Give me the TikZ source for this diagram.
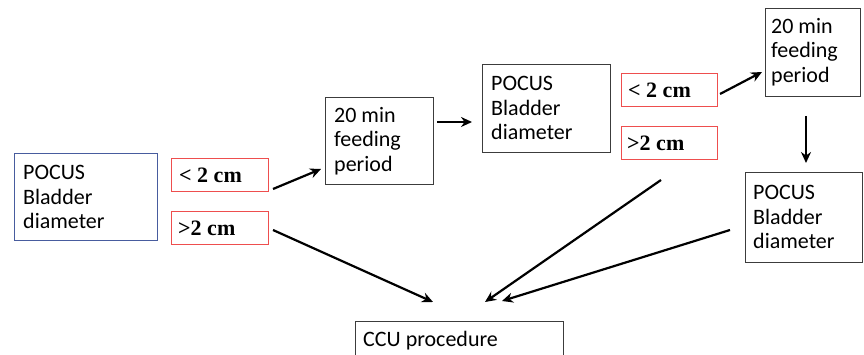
\documentclass[tikz,border=0pt]{standalone}
\usepackage{fontspec}
\setmainfont{Carlito}
\newfontfamily\tnr{Liberation Serif}
\usetikzlibrary{arrows.meta}
\definecolor{bblue}{RGB}{72,92,158}
\definecolor{rred}{RGB}{238,78,78}
\definecolor{gborder}{RGB}{60,60,60}
\tikzset{
  box/.style={draw=gborder, line width=1.1pt, rectangle, inner sep=0pt, anchor=north west},
  lbl/.style={anchor=west, font=\fontsize{22}{24.5}\selectfont, align=left, inner sep=0pt},
  cond/.style={draw=rred, line width=1.2pt, rectangle, inner sep=0pt, anchor=north west,
    minimum width=97pt, minimum height=33pt},
  clbl/.style={anchor=west, font=\tnr\bfseries\fontsize{22}{24}\selectfont, inner sep=0pt},
  arr/.style={line width=2.2pt, -{Stealth[length=11pt,width=10pt]}},
}
\begin{document}
\begin{tikzpicture}[x=1pt,y=-1pt]
\useasboundingbox (0,0) rectangle (864,355);
\clip (0,0) rectangle (864,355);
% main boxes
\node[box, draw=bblue, minimum width=143pt, minimum height=87pt] (p1) at (14,153) {};
\node[lbl] (p1t) at (23,197) {POCUS\\Bladder\\diameter};
\node[box, minimum width=108pt, minimum height=87pt] (f1) at (325,97) {};
\node[lbl] (f1t) at (334,141) {20 min\\feeding\\period};
\node[box, minimum width=128pt, minimum height=88pt] (p2) at (482,64) {};
\node[lbl] (p2t) at (491,108) {POCUS\\Bladder\\diameter};
\node[box, minimum width=95pt, minimum height=88pt] (f2) at (765,8) {};
\node[lbl] (f2t) at (771,52) {20 min\\feeding\\period};
\node[box, minimum width=117pt, minimum height=90pt] (p3) at (745,172) {};
\node[lbl] (p3t) at (753,217) {POCUS\\Bladder\\diameter};
\node[box, minimum width=208pt, minimum height=60pt] (ccu) at (355,321) {};
\node[lbl] (ccut) at (363,341) {CCU procedure};
% condition boxes
\node[cond] (lt1) at (171,158) {};
\node[clbl] (lt1t) at (179,175) {< 2 cm};
\node[cond] (gt1) at (171,211) {};
\node[clbl] (gt1t) at (178,228) {>2 cm};
\node[cond, minimum width=96pt] (lt2) at (621,73) {};
\node[clbl] (lt2t) at (628,90) {< 2 cm};
\node[cond, minimum width=96pt] (gt2) at (621,126) {};
\node[clbl] (gt2t) at (627,143) {>2 cm};
% connector ends
\coordinate (a1s) at (273,189);
\coordinate (a1e) at (321,169);
\coordinate (a2s) at (273,230);
\coordinate (a2e) at (433,302);
\coordinate (a3s) at (437,122);
\coordinate (a3e) at (472,122);
\coordinate (a4s) at (720,94);
\coordinate (a4e) at (762,72);
\coordinate (a5s) at (806,116);
\coordinate (a5e) at (806,163);
\coordinate (a6s) at (661,180);
\coordinate (a6e) at (485,302);
\coordinate (a7s) at (730,230);
\coordinate (a7e) at (502,301);
\draw[arr] (a1s) -- (a1e);
\draw[arr] (a2s) -- (a2e);
\draw[arr] (a3s) -- (a3e);
\draw[arr] (a4s) -- (a4e);
\draw[arr] (a5s) -- (a5e);
\draw[arr] (a6s) -- (a6e);
\draw[arr] (a7s) -- (a7e);
\end{tikzpicture}
\end{document}
